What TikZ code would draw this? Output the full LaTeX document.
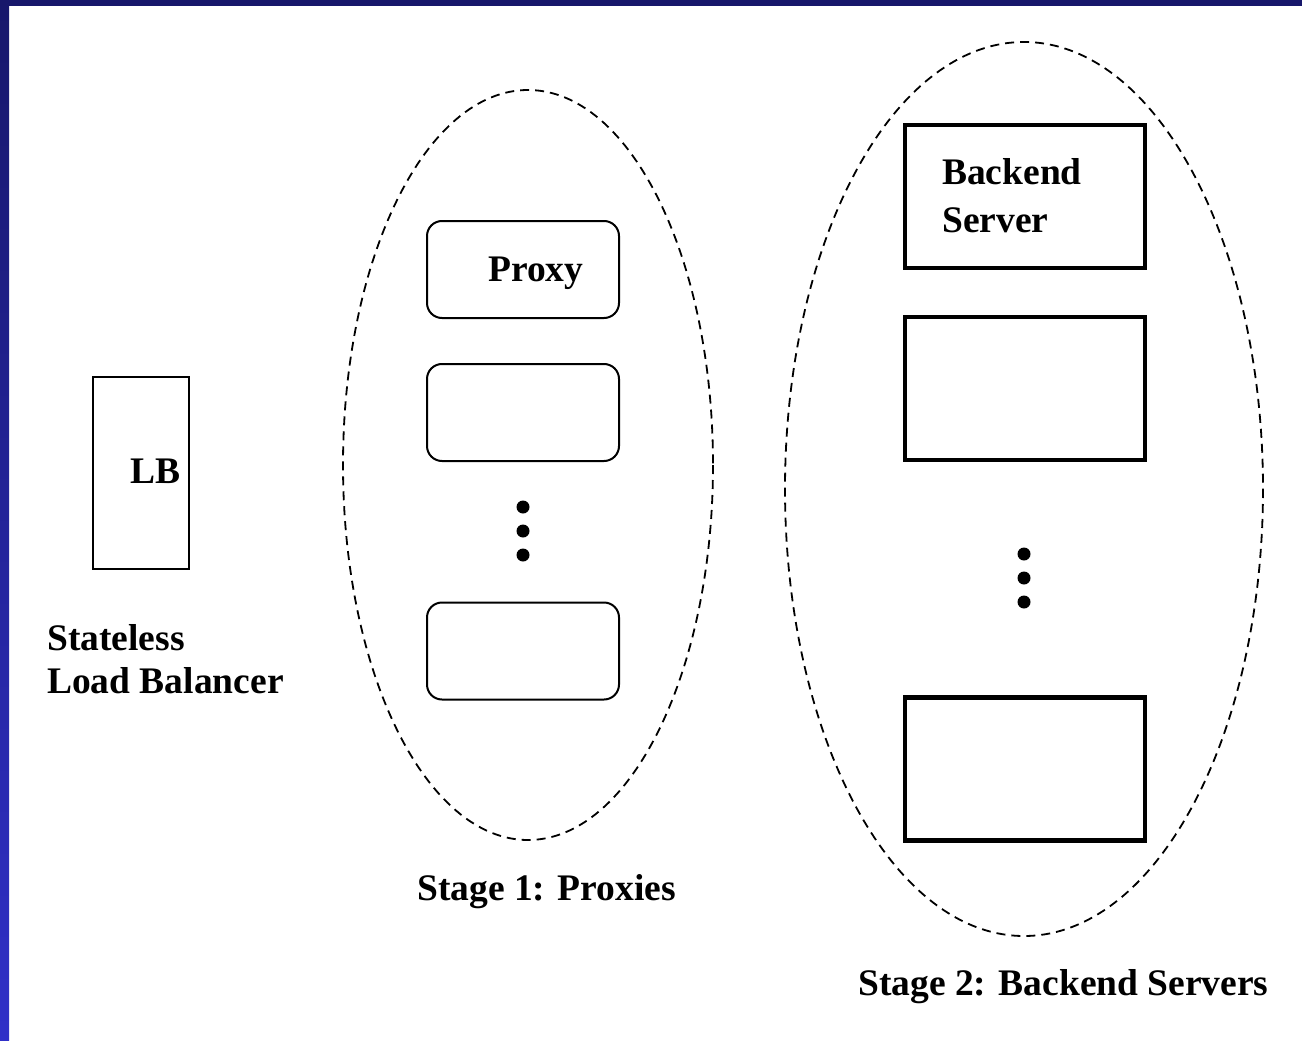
\documentclass[tikz,border=0pt]{standalone}
\usepackage{fontspec}
\setmainfont{Liberation Serif}
\definecolor{navy}{HTML}{17176B}
\definecolor{brightblue}{HTML}{3030C8}
\begin{document}
\begin{tikzpicture}[x=1pt,y=-1pt,
  lbl/.style={font=\bfseries\fontsize{37.5}{43}\selectfont, inner sep=0pt, anchor=base west},
  lbbox/.style={draw, line width=2pt, inner sep=0pt, minimum width=96pt, minimum height=192pt},
  proxybox/.style={draw, line width=2pt, rounded corners=15pt, inner sep=0pt, minimum width=192pt, minimum height=97pt},
  serverbox/.style={draw, line width=4.2pt, inner sep=0pt, minimum width=240pt, minimum height=143pt},
  stagegroup/.style={draw, dash pattern=on 9pt off 6pt, line width=1.8pt},
  dot/.style={fill=black}
]
\useasboundingbox (0,0) rectangle (1302,1041);
\fill[white] (0,0) rectangle (1302,1041);
% frame bars
\shade[top color=navy, bottom color=brightblue] (0,0) rectangle (9,1041);
\fill[navy] (0,0) rectangle (1302,6);

% groups
\draw[stagegroup] (528,465) ellipse [x radius=185, y radius=375];
\draw[stagegroup] (1024,489) ellipse [x radius=239, y radius=447];

% load balancer
\node[lbbox] (lb) at (141,473) {};
\node[lbl] (lbtext) at (130,483) {LB};
\node[lbl] (lbcap) at (47,650) {\begin{tabular}[t]{@{}l@{}}Stateless\\Load Balancer\end{tabular}};

% proxies
\node[proxybox] (p1) at (523,269.5) {};
\node[proxybox] (p2) at (523,412.5) {};
\node[proxybox] (p3) at (523,651) {};
\node[lbl] (ptext) at (488,281) {Proxy};
\fill[dot] (523,507) circle (6.5) (523,531) circle (6.5) (523,555) circle (6.5);
\node[lbl] (stage1) at (417,900) {Stage 1: Proxies};

% backend servers
\node[serverbox] (s1) at (1025,196.5) {};
\node[serverbox] (s2) at (1025,388.5) {};
\node[serverbox] (s3) at (1025,769) {};
\node[lbl, font=\bfseries\fontsize{37.5}{48}\selectfont] (stext) at (942,184) {\begin{tabular}[t]{@{}l@{}}Backend\\Server\end{tabular}};
\fill[dot] (1024,554) circle (6.5) (1024,578) circle (6.5) (1024,602) circle (6.5);
\node[lbl] (stage2) at (858,995) {Stage 2: Backend Servers};
\end{tikzpicture}
\end{document}
